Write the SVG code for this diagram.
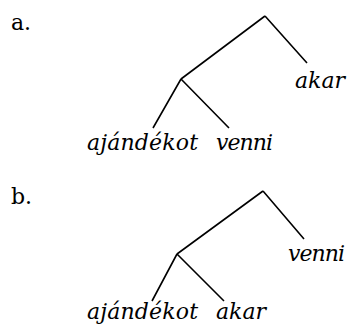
<svg xmlns="http://www.w3.org/2000/svg" width="348" height="325" viewBox="0 0 348 325">
<style>
.lbl{font-family:"DejaVu Serif","Liberation Serif",serif;font-size:22px;fill:#000}
.w{font-family:"DejaVu Serif","Liberation Serif",serif;font-style:italic;font-size:22px;fill:#000}
.e{stroke:#000;stroke-width:1.6;fill:none;stroke-linecap:butt}
</style>
<rect width="348" height="325" fill="#fff"/>
<text class="lbl" x="11" y="30">a.</text>
<text class="lbl" x="11" y="204">b.</text>
<g id="edges">
<path class="e" d="M265 16 L307 63 M265 16 L181 79 M181 79 L153 128 M181 79 L229 128"/>
<path class="e" d="M263 191 L304 239 M263 191 L177 254 M177 254 L152 301 M177 254 L224 301"/>
</g>
<g id="a-akar"><text class="w" x="295" y="88" textLength="50">akar</text></g>
<g id="a-ajandekot"><text class="w" x="87" y="150" textLength="111">ajándékot</text></g>
<g id="a-venni"><text class="w" x="216" y="150" textLength="57">venni</text></g>
<g id="b-venni"><text class="w" x="288" y="261" textLength="57">venni</text></g>
<g id="b-ajandekot"><text class="w" x="87" y="319" textLength="111">ajándékot</text></g>
<g id="b-akar"><text class="w" x="216" y="319" textLength="50">akar</text></g>
</svg>
